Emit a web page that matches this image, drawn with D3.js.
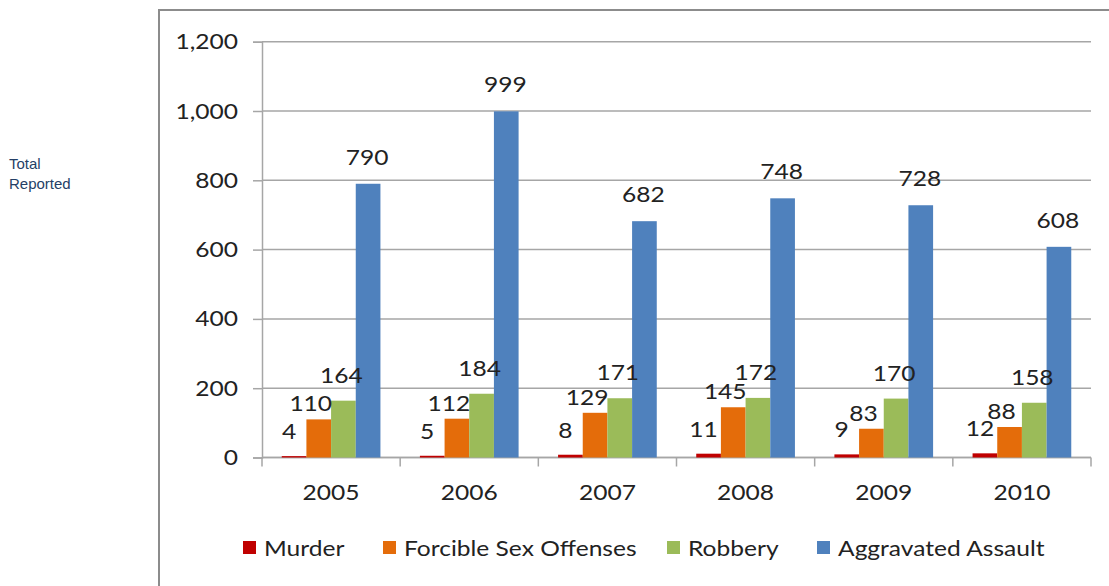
<!DOCTYPE html>
<html>
<head>
<meta charset="utf-8">
<script src="https://cdn.jsdelivr.net/npm/d3@7"></script>
<style>
  html, body { margin: 0; padding: 0; background: #fff; }
  svg { display: block; }
</style>
</head>
<body>
<svg id="chart" width="1109" height="586"></svg>
<script>
// Reported offenses by year
const years = ["2005", "2006", "2007", "2008", "2009", "2010"];
const seriesNames = ["Murder", "Forcible Sex Offenses", "Robbery", "Aggravated Assault"];
const murder = [4, 5, 8, 11, 9, 12];
const forcibleSex = [110, 112, 129, 145, 83, 88];
const robbery = [164, 184, 171, 172, 170, 158];
const aggravatedAssault = [790, 999, 682, 748, 728, 608];
const yTicks = [0, 200, 400, 600, 800, 1000, 1200];
const seriesColors = ["#C00000", "#E46C0A", "#9BBB59", "#4F81BD"];

const seriesValues = [murder, forcibleSex, robbery, aggravatedAssault];

const svg = d3.select("#chart");
const font = "Lato, 'Open Sans', sans-serif";
const fontSize = 21;
const stretch = 1.17;   // widen glyphs horizontally
const textColor = "#222";

// place a horizontally widened text label anchored at (px, py)
function label(parent, px, py, str, anchor) {
  return parent.append("text")
    .attr("transform", `translate(${px},${py}) scale(${stretch},1)`)
    .attr("text-anchor", anchor || "start")
    .attr("font-family", font).attr("font-size", fontSize).attr("fill", textColor)
    .text(str);
}

// outer frame (runs off the right and bottom edges)
svg.append("rect")
  .attr("x", 159).attr("y", 10)
  .attr("width", 1000).attr("height", 700)
  .attr("fill", "none").attr("stroke", "#8c8c8c").attr("stroke-width", 2);

// side caption
const cap = svg.append("text")
  .attr("font-family", "Arial, 'Liberation Sans', sans-serif")
  .attr("font-size", 15).attr("fill", "#243F66");
cap.append("tspan").attr("x", 9).attr("y", 169).text("Total");
cap.append("tspan").attr("x", 9).attr("y", 189).text("Reported");

const x0 = 262, x1 = 1091, yTop = 41.7, yBase = 457.5;

const x = d3.scaleBand().domain(years).range([x0, x1]).paddingInner(0).paddingOuter(0);
const y = d3.scaleLinear().domain([0, 1200]).range([yBase, yTop]);

// bars in a band: 4 bars, gap of 1.6 bar widths split on both sides
const barW = x.bandwidth() / (seriesNames.length + 1.6);
const xs = d3.scaleBand().domain(seriesNames)
  .range([barW * 0.8, barW * 0.8 + barW * seriesNames.length]).padding(0);

const gridColor = "#a6a6a6";

// gridlines
svg.append("g").selectAll("line").data(yTicks).join("line")
  .attr("x1", x0).attr("x2", x1)
  .attr("y1", d => y(d)).attr("y2", d => y(d))
  .attr("stroke", gridColor).attr("stroke-width", 1.5);

// y axis: line, ticks, labels
const yAxis = svg.append("g").attr("transform", `translate(${x0},0)`)
  .call(d3.axisLeft(y).tickValues(yTicks).tickFormat(() => "").tickSize(9));
yAxis.select(".domain").attr("stroke", gridColor).attr("stroke-width", 1.5);
yAxis.selectAll(".tick line").attr("stroke", gridColor).attr("stroke-width", 1.5);
const fmt = d3.format(",");
const yLabels = svg.append("g");
yTicks.forEach(t => label(yLabels, x0 - 24, y(t) + 7.5, fmt(t), "end"));

// x axis: line, band boundary ticks, year labels
const xAxis = svg.append("g").attr("transform", `translate(0,${yBase})`);
xAxis.append("line").attr("x1", x0).attr("x2", x1).attr("y1", 0).attr("y2", 0)
  .attr("stroke", gridColor).attr("stroke-width", 1.5);
xAxis.selectAll("line.tk").data(d3.range(years.length + 1)).join("line")
  .attr("class", "tk")
  .attr("x1", i => x0 + i * x.bandwidth()).attr("x2", i => x0 + i * x.bandwidth())
  .attr("y1", 0).attr("y2", 9)
  .attr("stroke", gridColor).attr("stroke-width", 1.5);
years.forEach(yr => label(xAxis, x(yr) + x.bandwidth() / 2, 42, yr, "middle"));

// bars
const groups = svg.append("g").selectAll("g").data(years).join("g")
  .attr("transform", d => `translate(${x(d)},0)`);

seriesNames.forEach((name, si) => {
  groups.append("rect")
    .attr("x", xs(name))
    .attr("y", (d, i) => y(seriesValues[si][i]))
    .attr("width", xs.bandwidth())
    .attr("height", (d, i) => yBase - y(seriesValues[si][i]))
    .attr("fill", seriesColors[si]);
});

// value labels, nudged per series so neighbours stay readable
const labelNudge = [[-5, 17], [-8, 8], [-2, 18], [-1, 19]];
const valueLabels = svg.append("g");
years.forEach((yr, i) => {
  seriesNames.forEach((name, si) => {
    const v = seriesValues[si][i];
    const [dx, dy] = labelNudge[si];
    label(valueLabels, x(yr) + xs(name) + xs.bandwidth() / 2 + dx, y(v) - dy, v, "middle");
  });
});

// legend
const legendX = [243, 383, 667, 817];
const legend = svg.append("g").selectAll("g").data(seriesNames).join("g")
  .attr("transform", (d, i) => `translate(${legendX[i]},541)`);
legend.append("rect").attr("width", 13).attr("height", 13)
  .attr("fill", (d, i) => seriesColors[i]);
legend.each(function (d) { label(d3.select(this), 21, 14.5, d, "start"); });
</script>
</body>
</html>
